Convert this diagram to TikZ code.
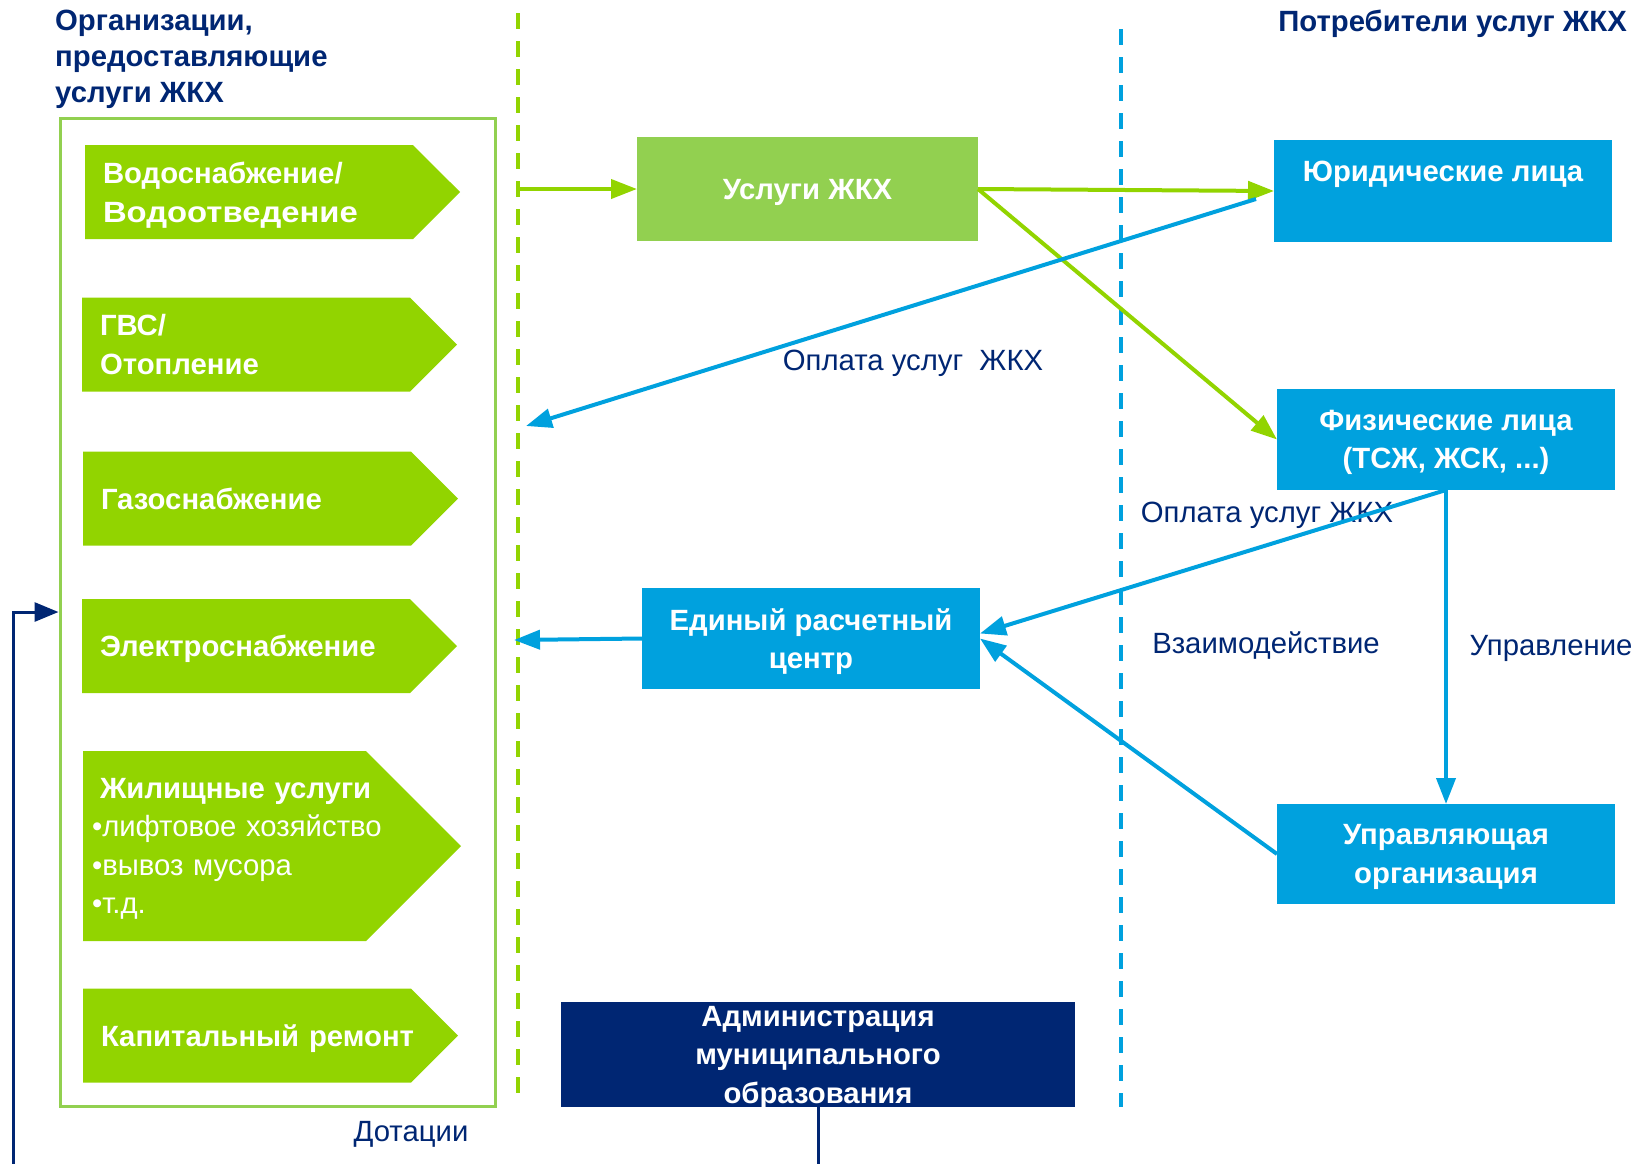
\documentclass[tikz,border=0pt]{standalone}
\usepackage{fontspec}
\setmainfont{Liberation Sans}
\usetikzlibrary{arrows.meta,shapes.symbols}
\definecolor{arrowgreen}{RGB}{146,212,0}
\definecolor{boxgreen}{RGB}{146,208,80}
\definecolor{zkhblue}{RGB}{0,161,222}
\definecolor{navy}{RGB}{0,38,115}

\begin{document}
\begin{tikzpicture}[x=1pt,y=-1pt,
    svcarrow/.style={signal, signal to=east, signal pointer angle=90, fill=arrowgreen,
        text=white, font=\fontsize{29.3}{38.5}\selectfont\bfseries, align=left,
        text width=292pt, inner xsep=18pt, inner ysep=0pt, outer sep=0pt,
        minimum height=94pt, anchor=west},
    oneline/.style={text depth=0pt},
    infobox/.style={text=white, font=\fontsize{29.3}{38.5}\selectfont\bfseries, align=center,
        minimum width=338pt, minimum height=101pt, inner sep=0pt, outer sep=0pt, text depth=0pt},
    lbl/.style={text=navy, font=\fontsize{29.3}{35}\selectfont, anchor=base, inner sep=0pt},
    head/.style={text=navy, font=\fontsize{29.3}{36}\selectfont\bfseries, align=left, inner sep=0pt},
    greenflow/.style={draw=arrowgreen, line width=4pt, -{Triangle[length=26pt,width=19pt]}},
    blueflow/.style={draw=zkhblue, line width=4pt, -{Triangle[length=26pt,width=19pt]}},
    sepline/.style={dash pattern=on 16pt off 12pt, line width=3.5pt}]

\useasboundingbox (0,0) rectangle (1641,1163);

\draw[sepline, arrowgreen] (518,13) -- (518,1094);
\draw[sepline, zkhblue] (1121,29) -- (1121,1107);

\node[head, anchor=north west] (orgtitle) at (55,10) {Организации,\\предоставляющие\\услуги ЖКХ};
\node[head, anchor=base east] (constitle) at (1627,31) {Потребители услуг ЖКХ};

\node[draw=boxgreen, line width=3pt, minimum width=435pt, minimum height=988pt, inner sep=0pt] (orgs) at (277.5,612) {};

\foreach \nm/\x/\y/\opt/\txt in {water/85/192/{}/{Водоснабжение/\\\smash{\scalebox{1.12}[1]{Водоотведение}}},
    heat/82/344.5/{}/{ГВС/\\Отопление}, gas/83/498.5/oneline/Газоснабжение,
    power/82/646/oneline/Электроснабжение, repair/83/1035.5/oneline/\mbox{Капитальный ремонт}}
  \node[svcarrow, \opt] (\nm) at (\x,\y) {\txt};
\node[svcarrow, text width=265pt, inner xsep=9pt, minimum height=190pt] (housing) at (83,846)
  {\mbox{\hspace*{8pt}Жилищные услуги}\\\mbox{\mdseries •лифтовое хозяйство}\\
   \mbox{\mdseries •вывоз мусора}\\\smash{\mdseries •т.д.}};

\node[infobox, fill=boxgreen, minimum width=341pt, minimum height=104pt] (usl) at (807.5,189) {Услуги ЖКХ};
\node[infobox, fill=zkhblue, minimum height=102pt] (jur) at (1443,191) {Юридические лица\\~};
\node[infobox, fill=zkhblue] (fiz) at (1446,439.5) {Физические лица\\(ТСЖ, ЖСК, ...)};
\node[infobox, fill=zkhblue] (erc) at (811,638.5) {Единый расчетный\\центр};
\node[infobox, fill=zkhblue, minimum height=100pt] (upr) at (1446,854) {Управляющая\\организация};
\node[infobox, fill=navy, minimum width=514pt, minimum height=105pt] (adm) at (818,1054.5)
  {Администрация\\муниципального\\образования};

\node[lbl] (pay1) at (913,370) {Оплата услуг~ ЖКХ};
\node[lbl] (pay2) at (1267,522) {Оплата услуг ЖКХ};
\node[lbl] (interact) at (1266,653) {Взаимодействие};
\node[lbl] (manage) at (1551,655) {Управление};
\node[lbl] (subsidy) at (411,1141) {Дотации};

\coordinate (gstart) at (519,189);
\coordinate (pay1end) at (526,426);
\coordinate (pay2end) at (514,640);

\draw[greenflow] (gstart) -- (usl.west);
\draw[greenflow] (usl.east) -- (jur.west);
\draw[greenflow] (usl.east) -- (fiz.west);
\draw[blueflow] ([shift={(-18pt,-8pt)}]jur.west) -- (pay1end);
\draw[blueflow] (fiz.south) -- ([yshift=5pt]erc.east);
\draw[blueflow] (fiz.south) -- (upr.north);
\draw[blueflow] (upr.west) -- (erc.east);
\draw[blueflow] (erc.west) -- (pay2end);
\draw[navy, line width=3pt, -{Triangle[length=24pt,width=19pt]}]
  (adm.south) -- ++(0,100) -| (13,612) -- (orgs.west);
\end{tikzpicture}
\end{document}
